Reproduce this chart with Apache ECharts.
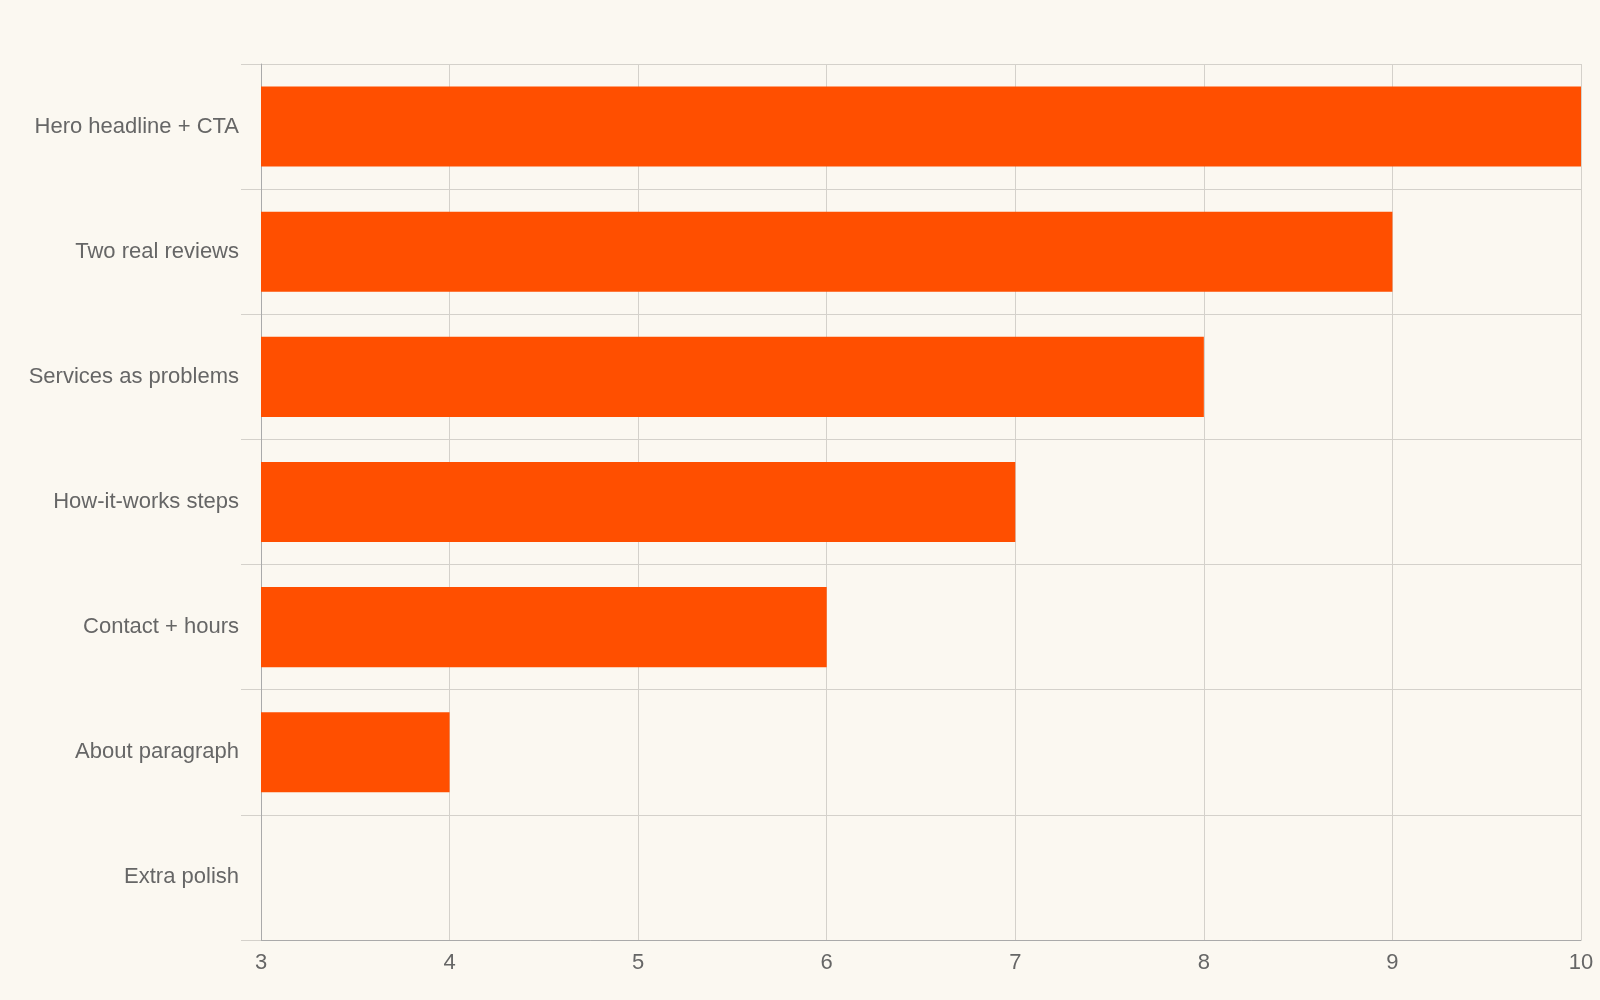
<!DOCTYPE html>
<html><head><meta charset="utf-8">
<script src="https://cdn.jsdelivr.net/npm/echarts@6/dist/echarts.min.js"></script>
<style>html,body{margin:0;background:#fbf8f1}#c{width:1600px;height:1000px}</style>
</head><body><div id="c"></div>
<script>
const categories = ["Hero headline + CTA","Two real reviews","Services as problems","How-it-works steps","Contact + hours","About paragraph","Extra polish"];
const values = [10,9,8,7,6,4,3];
const xTicks = {min:3,max:10,interval:1};
const chart = echarts.init(document.getElementById('c'));
chart.setOption({
  backgroundColor:'#fbf8f1',
  legend:{top:20,left:'center',itemWidth:80,itemHeight:24,data:[''],textStyle:{fontSize:1}},
  grid:{left:261,right:19,top:64,bottom:60},
  xAxis:{type:'value',min:xTicks.min,max:xTicks.max,interval:xTicks.interval,
    axisLine:{show:true,lineStyle:{color:'#aaa'}},axisTick:{show:false},
    axisLabel:{fontSize:22,color:'#666',margin:12,fontFamily:'Liberation Sans'},
    splitLine:{lineStyle:{color:'#d4d1cb'}}},
  yAxis:{type:'category',data:categories,inverse:true,
    axisLine:{show:true,lineStyle:{color:'#aaa'}},
    axisTick:{show:true,length:20,lineStyle:{color:'#d4d1cb'}},
    axisLabel:{fontSize:22,color:'#666',margin:22,fontFamily:'Liberation Sans'},
    splitLine:{show:true,lineStyle:{color:'#d4d1cb'}}},
  series:[{name:'',type:'bar',data:values,barWidth:'64%',itemStyle:{color:'#ff4f00'}}]
});
</script></body></html>
